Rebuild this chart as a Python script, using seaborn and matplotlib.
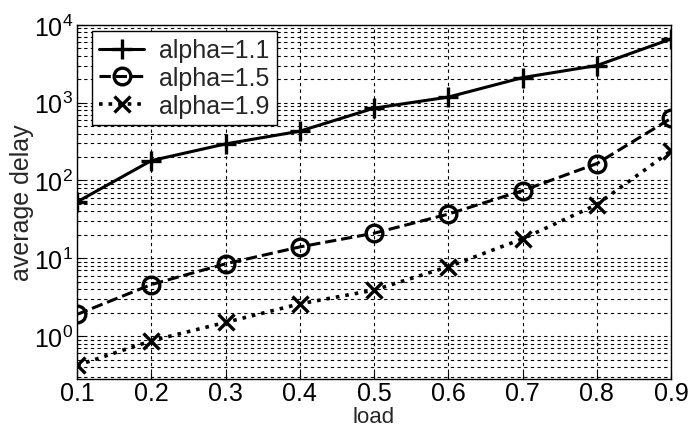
import matplotlib
matplotlib.use("Agg")
import matplotlib.pyplot as plt
import seaborn as sns
import pandas as pd
import numpy as np

load = [0.1, 0.2, 0.3, 0.4, 0.5, 0.6, 0.7, 0.8, 0.9]
delay_a11 = [53, 180, 295, 430, 850, 1180, 2100, 3000, 6600]
delay_a15 = [1.9, 4.6, 8.5, 14, 21, 37, 74, 165, 630]
delay_a19 = [0.42, 0.87, 1.5, 2.6, 3.9, 7.8, 17.8, 49, 240]
labels = ["alpha=1.1", "alpha=1.5", "alpha=1.9"]
xticks = [0.1, 0.2, 0.3, 0.4, 0.5, 0.6, 0.7, 0.8, 0.9]

sns.set_style("white")
plt.rcParams['font.family'] = ['Liberation Sans', 'DejaVu Sans']

fig = plt.figure(figsize=(6.9, 4.31), dpi=100)
ax = fig.add_axes([0.1116, 0.118, 0.861, 0.822])

series = [delay_a11, delay_a15, delay_a19]
styles = [("-", "+", 14, 2.2), ("--", "o", 12, 2.2), (":", "x", 11, 2.6)]
for vals, lab, (ls, mk, ms, lw) in zip(series, labels, styles):
    df = pd.DataFrame({"load": load, "delay": vals})
    sns.lineplot(data=df, x="load", y="delay", ax=ax, color="black",
                 linestyle=ls, marker=mk, markersize=ms, linewidth=lw,
                 markerfacecolor="none", markeredgecolor="black",
                 markeredgewidth=2.4, label=lab)

ax.set_yscale("log")
ax.set_xlim(0.1, 0.9)
ax.set_ylim(0.28, 1e4)
ax.set_xticks(xticks)
ax.set_xticklabels([f"{v:.1f}" for v in xticks])
ax.grid(True, which="major", axis="both", color="black", linestyle=(0, (3, 3)), linewidth=0.8)
ax.grid(True, which="minor", axis="y", color="black", linestyle=(0, (3, 3)), linewidth=0.8)
ax.tick_params(axis="both", which="both", direction="in", labelsize=18, colors="black")
ax.tick_params(axis="both", which="major", length=5)
ax.tick_params(axis="x", which="major", pad=1)
ax.tick_params(axis="y", which="major", pad=3)
ax.tick_params(axis="y", which="minor", length=3, left=True)
ax.tick_params(axis="y", which="major", left=True)
ax.tick_params(axis="x", which="major", bottom=True)
for s in ax.spines.values():
    s.set_color("black")
    s.set_linewidth(1.0)

ax.set_ylabel("average delay", fontsize=18, labelpad=0)

leg = ax.legend(loc="upper left", bbox_to_anchor=(0.025, 0.983), fontsize=18,
                frameon=True, fancybox=False, edgecolor="black", framealpha=1,
                handlelength=1.8, handletextpad=0.6, borderaxespad=0.0,
                labelspacing=0.15, borderpad=0.3)
leg.get_frame().set_linewidth(1.0)

# place the x label directly under the tick labels
fig.canvas.draw()
r = fig.canvas.get_renderer()
bottoms = [t.get_window_extent(r).y0 for t in ax.get_xticklabels()]
ybot = min(bottoms) - 1
xl = ax.set_xlabel("load", fontsize=16)
ax.xaxis.set_label_coords(0.5, ax.transAxes.inverted().transform((0, ybot))[1])
ax.xaxis.label.set_va("top")

fig.savefig("out.png", dpi=100)
